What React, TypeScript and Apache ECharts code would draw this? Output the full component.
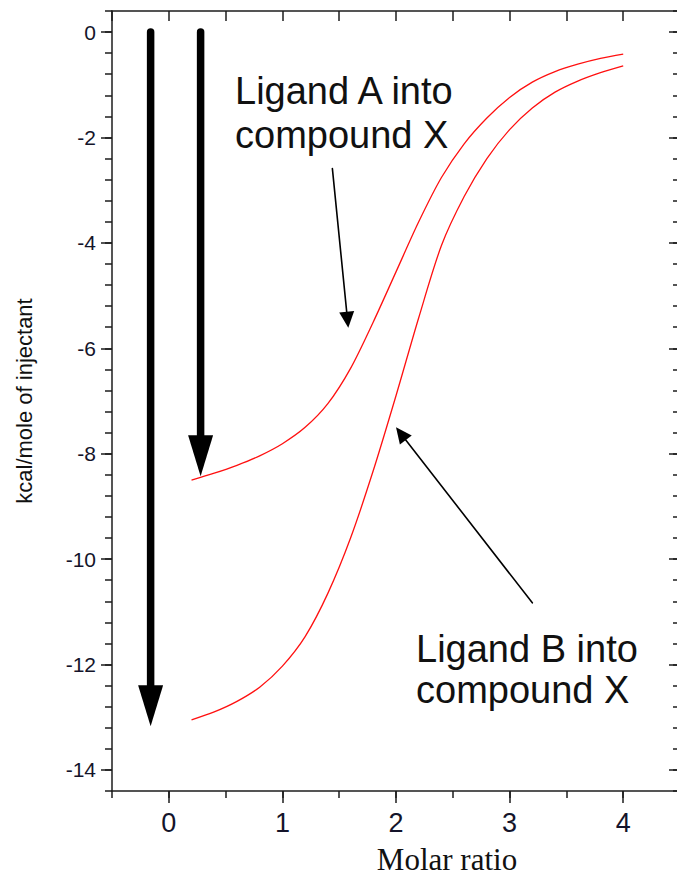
import React, { useEffect, useRef } from "react";
import * as echarts from "echarts";

// Molar ratio sampling of the two fitted binding isotherms
const molarRatio = [0.2, 0.4, 0.6, 0.8, 1.0, 1.2, 1.4, 1.6, 1.8, 2.0, 2.2, 2.4, 2.6, 2.8, 3.0, 3.2, 3.4, 3.6, 3.8, 4.0];
// kcal/mole of injectant
const ligandA = [-8.5, -8.37, -8.22, -8.04, -7.81, -7.5, -7.05, -6.38, -5.5, -4.55, -3.6, -2.76, -2.12, -1.63, -1.24, -0.95, -0.75, -0.61, -0.5, -0.42];
const ligandB = [-13.05, -12.9, -12.7, -12.43, -12.03, -11.47, -10.65, -9.6, -8.32, -6.9, -5.42, -4.05, -3.12, -2.4, -1.85, -1.44, -1.14, -0.93, -0.77, -0.64];

const xTicks = [0, 1, 2, 3, 4];
const yTicks = [-14, -12, -10, -8, -6, -4, -2, 0];

// [xFrom, yFrom, xTo, yTo] in data units
const thickArrows = [
  [-0.16, 0, -0.16, -13.17],
  [0.28, 0, 0.28, -8.43],
];
const thinArrows = [
  [1.44, -2.59, 1.58, -5.61],
  [3.2, -10.83, 2.0, -7.5],
];

const SANS = '"Liberation Sans", Arial, Helvetica, sans-serif';
const SERIF = '"Liberation Serif", "Times New Roman", serif';
const AXIS_COLOR = "#1c1c1c";
const LABEL_COLOR = "#14142a";

function arrowRenderer(lineWidth: number, headLen: number, headWidth: number) {
  return (params: any, api: any) => {
    const p0 = api.coord([api.value(0), api.value(1)]);
    const p1 = api.coord([api.value(2), api.value(3)]);
    const dx = p1[0] - p0[0];
    const dy = p1[1] - p0[1];
    const len = Math.hypot(dx, dy) || 1;
    const ux = dx / len;
    const uy = dy / len;
    const bx = p1[0] - ux * headLen;
    const by = p1[1] - uy * headLen;
    const nx = -uy;
    const ny = ux;
    return {
      type: "group",
      children: [
        {
          type: "line",
          shape: { x1: p0[0], y1: p0[1], x2: bx + ux * 2, y2: by + uy * 2 },
          style: { stroke: "#000", lineWidth, lineCap: "round" },
        },
        {
          type: "polygon",
          shape: {
            points: [
              [p1[0], p1[1]],
              [bx + (nx * headWidth) / 2, by + (ny * headWidth) / 2],
              [bx - (nx * headWidth) / 2, by - (ny * headWidth) / 2],
            ],
          },
          style: { fill: "#000" },
        },
      ],
    };
  };
}

export default function App() {
  const ref = useRef<HTMLDivElement>(null);

  useEffect(() => {
    if (!ref.current) return;
    const chart = echarts.init(ref.current, undefined, { renderer: "svg" });

    const xMin = -0.5;
    const xMax = 4.5;
    const yMin = -14.4;
    const yMax = 0.4;

    const lineStyle = { color: AXIS_COLOR, width: 1.5 };
    const baseX = {
      type: "value",
      min: xMin,
      max: xMax,
      splitLine: { show: false },
    };
    const baseY = {
      type: "value",
      min: yMin,
      max: yMax,
      splitLine: { show: false },
    };

    chart.setOption({
      animation: false,
      backgroundColor: "#fff",
      grid: { left: 112, right: 10, top: 11, bottom: 87, containLabel: false },
      xAxis: [
        {
          ...baseX,
          position: "bottom",
          interval: 0.5,
          axisLine: { show: true, onZero: false, lineStyle },
          axisTick: { show: true, length: 7, lineStyle },
          axisLabel: { show: false },
        },
        {
          ...baseX,
          position: "bottom",
          axisLine: { show: false, onZero: false },
          axisTick: { show: true, length: 12, lineStyle, customValues: xTicks },
          axisLabel: {
            show: true,
            customValues: xTicks,
            margin: 18,
            fontSize: 27,
            fontFamily: SANS,
            color: LABEL_COLOR,
          },
          name: "Molar ratio",
          nameLocation: "middle",
          nameGap: 53,
          nameTextStyle: {
            fontFamily: SERIF,
            fontSize: 31,
            color: "#111",
            padding: [0, 0, 0, 102],
          },
        },
        {
          ...baseX,
          position: "top",
          interval: 0.5,
          axisLine: { show: true, onZero: false, lineStyle },
          axisTick: { show: true, inside: true, length: 10, lineStyle },
          axisLabel: { show: false },
        },
      ],
      yAxis: [
        {
          ...baseY,
          position: "left",
          interval: 0.4,
          axisLine: { show: true, onZero: false, lineStyle },
          axisTick: { show: true, length: 7, lineStyle },
          axisLabel: { show: false },
        },
        {
          ...baseY,
          position: "left",
          axisLine: { show: false, onZero: false },
          axisTick: { show: true, length: 11, lineStyle, customValues: yTicks },
          axisLabel: {
            show: true,
            customValues: yTicks,
            margin: 16,
            fontSize: 21,
            fontFamily: SANS,
            color: LABEL_COLOR,
          },
          name: "kcal/mole of injectant",
          nameLocation: "middle",
          nameRotate: 90,
          nameGap: 77,
          nameTextStyle: { fontFamily: SANS, fontSize: 22, color: "#111" },
        },
        {
          ...baseY,
          position: "right",
          interval: 0.4,
          axisLine: { show: true, onZero: false, lineStyle },
          axisTick: { show: true, inside: true, length: 7, lineStyle },
          axisLabel: { show: false },
        },
        {
          ...baseY,
          position: "right",
          axisLine: { show: false, onZero: false },
          axisTick: { show: true, inside: true, length: 11, lineStyle, customValues: yTicks },
          axisLabel: { show: false },
        },
      ],
      series: [
        {
          name: "Ligand A into compound X",
          type: "line",
          xAxisIndex: 0,
          yAxisIndex: 0,
          data: molarRatio.map((x, i) => [x, ligandA[i]]),
          showSymbol: false,
          smooth: 0.3,
          lineStyle: { color: "#ff1010", width: 1.3 },
        },
        {
          name: "Ligand B into compound X",
          type: "line",
          xAxisIndex: 0,
          yAxisIndex: 0,
          data: molarRatio.map((x, i) => [x, ligandB[i]]),
          showSymbol: false,
          smooth: 0.3,
          lineStyle: { color: "#ff1010", width: 1.3 },
        },
        {
          type: "custom",
          xAxisIndex: 0,
          yAxisIndex: 0,
          clip: false,
          silent: true,
          encode: { x: [0, 2], y: [1, 3] },
          data: thickArrows,
          renderItem: arrowRenderer(7.5, 41, 25),
        },
        {
          type: "custom",
          xAxisIndex: 0,
          yAxisIndex: 0,
          clip: false,
          silent: true,
          encode: { x: [0, 2], y: [1, 3] },
          data: thinArrows,
          renderItem: arrowRenderer(1.6, 16, 15),
        },
      ],
      graphic: [
        {
          type: "text",
          x: 235,
          y: 91,
          style: { text: "Ligand A into", font: `38px ${SANS}`, fill: "#111", verticalAlign: "middle" },
        },
        {
          type: "text",
          x: 235,
          y: 135,
          style: { text: "compound X", font: `38px ${SANS}`, fill: "#111", verticalAlign: "middle" },
        },
        {
          type: "text",
          x: 416,
          y: 649,
          style: { text: "Ligand B into", font: `38px ${SANS}`, fill: "#111", verticalAlign: "middle" },
        },
        {
          type: "text",
          x: 416,
          y: 690,
          style: { text: "compound X", font: `38px ${SANS}`, fill: "#111", verticalAlign: "middle" },
        },
      ],
    });

    return () => chart.dispose();
  }, []);

  return (
    <div
      style={{
        position: "absolute",
        left: 0,
        top: 0,
        width: 677,
        height: 880,
        overflow: "hidden",
        background: "#fff",
      }}
    >
      <div ref={ref} style={{ width: 690, height: 880 }} />
    </div>
  );
}
